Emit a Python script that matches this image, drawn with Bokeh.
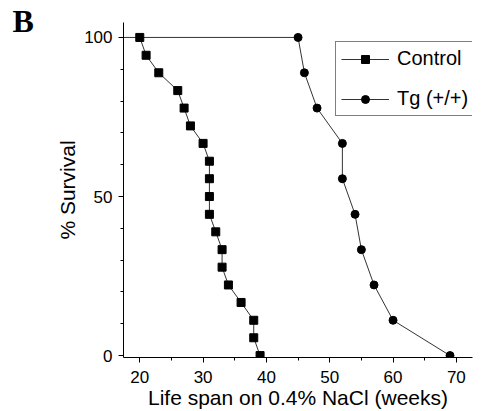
from bokeh.plotting import figure
from bokeh.models import SingleIntervalTicker, Legend, LegendItem, Range1d
from bokeh.embed import file_html
from bokeh.resources import INLINE

# ---- data ----
control_weeks = [20, 21, 23, 26, 27, 28, 30, 31, 31, 31, 31, 32, 33, 33, 34, 36, 38, 38, 39]
control_survival = [100, 94.4, 88.9, 83.3, 77.8, 72.2, 66.7, 61.1, 55.6, 50.0,
                    44.4, 38.9, 33.3, 27.8, 22.2, 16.7, 11.1, 5.6, 0]
tg_weeks = [45, 46, 48, 52, 52, 54, 55, 57, 60, 69]
tg_survival = [100, 88.9, 77.8, 66.7, 55.6, 44.4, 33.3, 22.2, 11.1, 0]
study_start_week = 0
study_start_survival = 100

FONT = "Liberation Sans"

p = figure(width=486, height=411, output_backend="svg", toolbar_location=None,
           x_range=Range1d(17.43, 72.55), y_range=Range1d(-0.6, 104.7),
           min_border_left=123, min_border_right=14, min_border_top=22, min_border_bottom=54)
p.outline_line_color = None
p.xgrid.visible = False
p.ygrid.visible = False
p.background_fill_color = "white"

# panel letter as the figure title
p.title.text = "B"
p.title_location = "above"
p.title.align = "left"
p.title.offset = -111
p.title.standoff = -32
p.title.vertical_align = "bottom"
p.title.text_font = "Liberation Serif"
p.title.text_font_style = "bold"
p.title.text_font_size = "32px"
p.title.text_color = "black"

line_color = "#333333"

# start-of-study baseline for Tg (drawn as line only)
tg_line = p.line([study_start_week] + tg_weeks, [study_start_survival] + tg_survival,
                 line_color=line_color, line_width=1)
tg_pts = p.scatter(tg_weeks, tg_survival, marker="circle", size=8,
                   fill_color="black", line_color="black")
ctl_line = p.line(control_weeks, control_survival, line_color=line_color, line_width=1)
ctl_pts = p.scatter(control_weeks, control_survival, marker="square", size=8,
                    fill_color="black", line_color="black")

# axes
p.xaxis.ticker = SingleIntervalTicker(interval=10, num_minor_ticks=2)
p.yaxis.ticker = SingleIntervalTicker(interval=50, num_minor_ticks=5)
for ax in (p.xaxis[0], p.yaxis[0]):
    ax.major_tick_in = 0
    ax.major_tick_out = 5
    ax.minor_tick_in = 0
    ax.minor_tick_out = 3
    ax.axis_line_color = "black"
    ax.major_tick_line_color = "black"
    ax.minor_tick_line_color = "black"
    ax.major_label_text_font = FONT
    ax.major_label_text_font_size = "17px"
    ax.major_label_text_color = "black"
    ax.axis_label_text_font = FONT
    ax.axis_label_text_font_size = "21px"
    ax.axis_label_text_font_style = "normal"
    ax.axis_label_text_color = "black"

p.xaxis.axis_label = "Life span on 0.4% NaCl (weeks)"
p.yaxis.axis_label = "% Survival"
p.xaxis.major_label_standoff = 8
p.xaxis.axis_label_standoff = 0
p.yaxis.major_label_standoff = 6
p.yaxis.axis_label_standoff = 2

legend = Legend(items=[
    LegendItem(label="Control", renderers=[ctl_line, ctl_pts]),
    LegendItem(label="Tg (+/+)", renderers=[tg_line, tg_pts]),
], location=(212, 241))
legend.glyph_width = 48
legend.glyph_height = 20
legend.label_height = 20
legend.spacing = 17
legend.padding = 5
legend.margin = 0
legend.label_standoff = 8
legend.label_text_font = FONT
legend.label_text_font_size = "20px"
legend.label_text_color = "black"
legend.border_line_color = "black"
legend.border_line_width = 1
legend.background_fill_alpha = 1
p.add_layout(legend, "center")

open("out.html", "w").write(file_html(p, INLINE))
